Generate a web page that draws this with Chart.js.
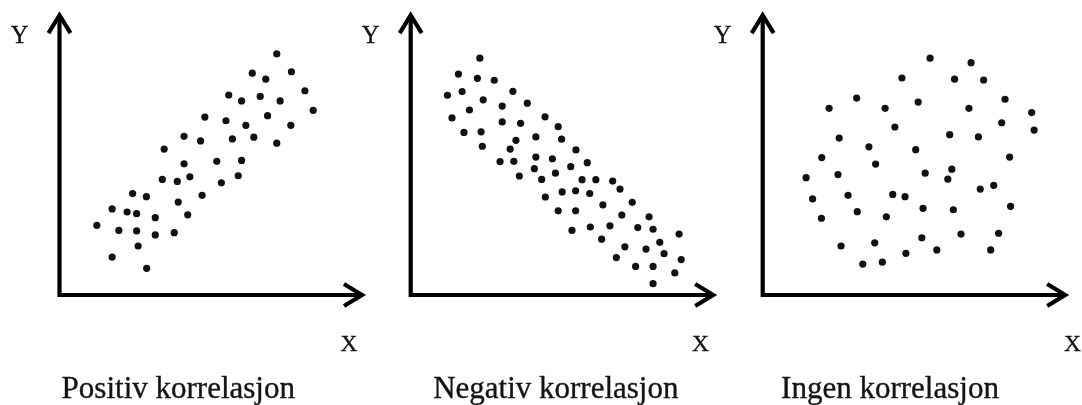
<!DOCTYPE html>
<html>
<head>
<meta charset="utf-8">
<title>Korrelasjon</title>
<script src="https://cdn.jsdelivr.net/npm/chart.js@4.4.1/dist/chart.umd.min.js"></script>
<style>
    body { margin: 0; background: #fff; }
    #wrap { position: relative; width: 1082px; height: 405px; overflow: hidden; }
    #wrap canvas { position: absolute; left: 0; top: 0; }
    .lbl {
        position: absolute;
        font-family: "Liberation Serif", "Times New Roman", serif;
        color: #141414;
        -webkit-text-stroke: 0.35px #141414;
        line-height: 1;
        white-space: nowrap;
        transform: translateX(-50%);
    }
</style>
</head>
<body>
<div id="wrap">
    <canvas id="c0" width="1082" height="405"></canvas>
    <canvas id="c1" width="1082" height="405"></canvas>
    <canvas id="c2" width="1082" height="405"></canvas>
</div>
<script>
// values are in axis units 0..100 (origin = where the two arrows meet)
const positivX = [71.0, 63.0, 75.8, 67.4, 80.2, 55.3, 59.5, 65.6, 72.1, 82.9,
    47.5, 54.4, 60.9, 68.0, 75.6, 40.7, 46.1, 56.5, 63.5, 71.0,
    34.2, 40.7, 51.4, 59.5, 33.6, 38.5, 42.6, 52.9, 58.4, 23.9,
    28.4, 38.8, 46.6, 17.2, 22.1, 25.2, 31.3, 41.9, 12.2, 19.4,
    25.2, 31.3, 37.5, 25.7, 17.2, 28.5];
const positivY = [85.1, 78.3, 78.8, 76.2, 72.1, 70.6, 68.5, 70.1, 68.5, 65.2,
    62.8, 61.5, 59.9, 63.3, 59.9, 56.0, 54.4, 55.1, 55.7, 53.6,
    51.5, 46.3, 47.2, 47.5, 40.8, 40.1, 41.7, 39.6, 42.1, 35.8,
    34.7, 32.8, 35.2, 30.4, 29.3, 28.7, 27.3, 28.3, 24.6, 22.8,
    22.6, 21.2, 22.0, 17.3, 13.4, 9.4];

const negativX = [22.6, 15.6, 21.8, 27.3, 12.0, 16.8, 23.7, 33.4, 19.2, 29.9,
    38.1, 13.5, 29.9, 35.9, 43.9, 48.2, 17.4, 23.0, 23.4, 34.4,
    40.9, 49.3, 32.5, 54.0, 29.2, 33.7, 40.9, 46.3, 57.7, 40.4,
    52.3, 35.5, 42.8, 47.3, 56.0, 60.5, 66.0, 68.4, 44.0, 49.5,
    53.9, 58.5, 62.8, 72.4, 48.2, 53.9, 69.0, 77.9, 52.7, 58.7,
    65.1, 74.2, 79.2, 87.7, 62.4, 81.4, 70.0, 76.9, 82.8, 67.2,
    88.4, 73.5, 79.2, 86.3, 79.2];
const negativY = [83.6, 78.0, 76.5, 75.8, 70.5, 71.8, 68.9, 71.9, 65.3, 66.7,
    67.7, 62.5, 61.1, 60.6, 62.9, 59.4, 57.4, 57.6, 52.5, 54.6,
    55.8, 55.0, 51.5, 51.2, 47.1, 47.2, 48.7, 48.1, 46.7, 44.6,
    45.3, 42.0, 40.8, 43.0, 40.7, 40.7, 40.2, 37.4, 34.6, 36.4,
    36.8, 35.8, 31.8, 32.7, 29.7, 29.7, 28.2, 27.6, 22.8, 24.0,
    24.4, 23.8, 23.2, 21.5, 19.7, 18.6, 17.0, 16.2, 14.6, 13.2,
    12.5, 10.1, 10.1, 7.8, 4.0];

const ingenX = [54.7, 68.1, 45.5, 62.7, 72.2, 30.7, 21.7, 40.0, 50.8, 67.4,
    79.2, 87.9, 43.2, 61.1, 70.5, 78.1, 88.7, 25.0, 34.7, 50.0,
    19.3, 36.9, 80.7, 14.2, 24.6, 53.1, 61.8, 60.5, 16.3, 27.9,
    42.5, 46.5, 71.1, 75.5, 19.2, 30.9, 40.4, 52.4, 62.3, 81.0,
    25.6, 36.6, 52.0, 64.8, 77.1, 46.8, 56.9, 74.5, 32.7, 39.1];
const ingenY = [83.6, 82.0, 76.6, 76.2, 75.9, 69.5, 65.9, 65.9, 68.1, 65.9,
    69.1, 64.4, 59.3, 56.6, 55.8, 60.8, 58.2, 55.4, 52.3, 51.3,
    48.5, 46.2, 48.7, 41.4, 42.5, 43.0, 44.4, 40.9, 33.9, 35.2,
    35.5, 34.7, 37.4, 38.7, 27.1, 29.4, 27.6, 30.6, 30.1, 31.3,
    17.3, 18.4, 20.2, 21.5, 21.8, 14.7, 15.9, 15.9, 10.9, 11.6];

const captions = ['Positiv korrelasjon', 'Negativ korrelasjon', 'Ingen korrelasjon'];
const axisNames = ['X', 'Y'];

// layout (pixels) - where each panel's origin sits and where the labels go
const panelLeft = [59.5, 410.7, 762.7];
const axisLength = 306;
const areaTop = 11.7;
const areaBottom = 295;
const xLabelCenter = [349, 700.5, 1072.5];
const captionCenter = [178.3, 555.8, 890];

const panels = [
    { xs: positivX, ys: positivY },
    { xs: negativX, ys: negativY },
    { xs: ingenX, ys: ingenY }
];

function toPoints(xs, ys) {
    return xs.map((x, i) => ({ x: x, y: ys[i] }));
}

// draws the two black axes with open arrow heads
const arrowAxes = {
    id: 'arrowAxes',
    beforeDatasetsDraw(chart) {
        const ctx = chart.ctx;
        const xs = chart.scales.x;
        const ys = chart.scales.y;
        const ox = xs.getPixelForValue(0);
        const oy = ys.getPixelForValue(0);
        const tipX = xs.getPixelForValue(100) - 3.5;
        const tipY = ys.getPixelForValue(100) + 3.5;

        ctx.save();
        ctx.strokeStyle = '#000';
        ctx.lineWidth = 4.2;
        ctx.lineJoin = 'miter';
        ctx.lineCap = 'butt';

        ctx.beginPath();
        ctx.moveTo(ox, tipY);
        ctx.lineTo(ox, oy);
        ctx.lineTo(tipX, oy);
        ctx.stroke();

        ctx.beginPath();
        ctx.moveTo(ox - 11, tipY + 18);
        ctx.lineTo(ox, tipY);
        ctx.lineTo(ox + 11, tipY + 18);
        ctx.stroke();

        ctx.beginPath();
        ctx.moveTo(tipX - 18, oy - 11);
        ctx.lineTo(tipX, oy);
        ctx.lineTo(tipX - 18, oy + 11);
        ctx.stroke();
        ctx.restore();
    }
};

const wrap = document.getElementById('wrap');

function addLabel(text, cx, top, size) {
    const el = document.createElement('div');
    el.className = 'lbl';
    el.textContent = text;
    el.style.left = cx + 'px';
    el.style.top = top + 'px';
    el.style.fontSize = size + 'px';
    wrap.appendChild(el);
}

panels.forEach((panel, i) => {
    const ox = panelLeft[i];
    new Chart(document.getElementById('c' + i), {
        type: 'scatter',
        data: {
            datasets: [{
                data: toPoints(panel.xs, panel.ys),
                backgroundColor: '#111',
                borderWidth: 0,
                pointRadius: 3.6
            }]
        },
        options: {
            responsive: false,
            animation: false,
            events: [],
            layout: {
                autoPadding: false,
                padding: {
                    left: ox,
                    right: 1082 - ox - axisLength,
                    top: areaTop,
                    bottom: 405 - areaBottom
                }
            },
            scales: {
                x: { type: 'linear', display: false, min: 0, max: 100 },
                y: { type: 'linear', display: false, min: 0, max: 100 }
            },
            plugins: {
                legend: { display: false },
                tooltip: { enabled: false }
            }
        },
        plugins: [arrowAxes]
    });

    addLabel(axisNames[1], ox - 40, 23, 24.5);
    addLabel(axisNames[0], xLabelCenter[i], 332, 23.5);
    addLabel(captions[i], captionCenter[i], 372, 31);
});
</script>
</body>
</html>
